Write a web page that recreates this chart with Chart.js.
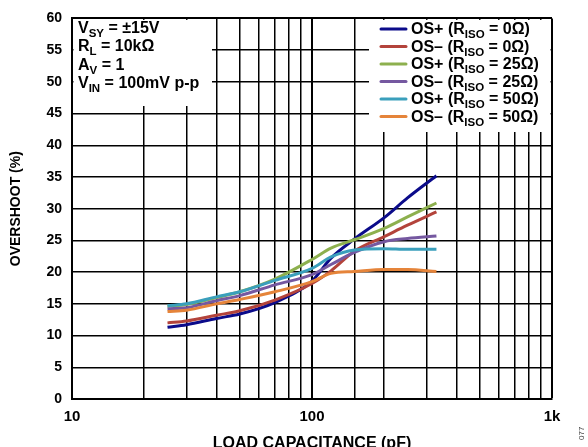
<!DOCTYPE html>
<html>
<head>
<meta charset="utf-8">
<script src="https://cdn.jsdelivr.net/npm/chart.js@4.4.1/dist/chart.umd.min.js"></script>
<style>
  html, body { margin: 0; padding: 0; background: #ffffff; }
  #c { display: block; }
</style>
</head>
<body>
<canvas id="c" width="588" height="447"></canvas>
<script>
// ---- data ----
const capacitance = [25, 30, 40, 50, 70, 100, 120, 150, 200, 250, 330];
const osPlus0   = [11.3, 11.7, 12.7, 13.4, 15.2, 18.6, 22.2, 25.2, 28.6, 31.7, 35.2];
const osMinus0  = [12.0, 12.3, 13.2, 13.9, 15.6, 18.2, 20.2, 23.3, 25.6, 27.4, 29.5];
const osPlus25  = [14.6, 14.9, 16.0, 16.9, 18.9, 22.0, 23.8, 25.1, 26.9, 28.7, 30.9];
const osMinus25 = [14.2, 14.4, 15.5, 16.3, 18.0, 19.6, 21.2, 23.1, 24.8, 25.3, 25.7];
const osPlus50  = [14.7, 15.0, 16.1, 16.9, 18.7, 20.6, 22.4, 23.5, 23.7, 23.6, 23.6];
const osMinus50 = [13.8, 14.0, 15.0, 15.7, 16.9, 18.5, 19.8, 20.1, 20.4, 20.4, 20.1];

const seriesNames = ['OS+', 'OS–', 'OS+', 'OS–', 'OS+', 'OS–'];
const risoValues  = ['0Ω', '0Ω', '25Ω', '25Ω', '50Ω', '50Ω'];
const seriesValues = [osPlus0, osMinus0, osPlus25, osMinus25, osPlus50, osMinus50];
const seriesColors = ['#0b0b8a', '#b3433b', '#8db04e', '#7558a0', '#3a9fbc', '#e5843a'];

const xTickLabels = { 10: '10', 100: '100', 1000: '1k' };
const yTicks = { min: 0, max: 60, step: 5 };
const xRange = { min: 10, max: 1000 };

const conditions = [
  [['V', false], ['SY', true], [' = ±15V', false]],
  [['R', false], ['L', true], [' = 10kΩ', false]],
  [['A', false], ['V', true], [' = 1', false]],
  [['V', false], ['IN', true], [' = 100mV p-p', false]]
];

const FONT = '"Liberation Sans", Arial, Helvetica, sans-serif';

function drawRich(ctx, parts, x, y, size, subSize, subDrop) {
  let cx = x;
  for (const [txt, sub] of parts) {
    ctx.font = 'bold ' + (sub ? subSize : size) + 'px ' + FONT;
    ctx.fillText(txt, cx, sub ? y + subDrop : y);
    cx += ctx.measureText(txt).width;
  }
}

const overlayPlugin = {
  id: 'overlay',
  beforeDatasetsDraw(chart) {
    const ctx = chart.ctx;
    const a = chart.chartArea;
    ctx.save();
    ctx.fillStyle = '#ffffff';
    // condition box (upper left)
    ctx.fillRect(a.left + 1.5, a.top + 1.5, 212 - a.left - 1.5, 106 - a.top - 1.5);
    // legend box (upper right)
    ctx.fillRect(369, a.top + 1.5, a.right - 1.5 - 369, 132 - a.top - 1.5);
    ctx.restore();
  },
  afterDraw(chart) {
    const ctx = chart.ctx;
    const a = chart.chartArea;
    ctx.save();
    ctx.fillStyle = '#000000';
    ctx.textBaseline = 'alphabetic';
    ctx.textAlign = 'left';
    // test conditions
    const condBase = [32.5, 51, 69.5, 88];
    conditions.forEach((parts, i) => {
      drawRich(ctx, parts, a.left + 6, condBase[i], 16, 11.5, 4);
    });
    // legend
    chart.data.datasets.forEach((ds, i) => {
      const base = 34 + i * 17.5;
      ctx.strokeStyle = ds.borderColor;
      ctx.lineWidth = 3;
      ctx.lineCap = 'round';
      ctx.beginPath();
      ctx.moveTo(381, base - 5);
      ctx.lineTo(406, base - 5);
      ctx.stroke();
      ctx.fillStyle = '#000000';
      drawRich(ctx, [[seriesNames[i] + ' (R', false], ['ISO', true], [' = ' + risoValues[i] + ')', false]],
        411, base, 16, 11.5, 4);
    });
    // figure code at the right edge
    ctx.translate(584, 440);
    ctx.rotate(-Math.PI / 2);
    ctx.font = '8px ' + FONT;
    ctx.fillStyle = '#444444';
    ctx.fillText('077', 0, 0);
    ctx.restore();
  }
};

const datasets = seriesValues.map((vals, i) => ({
  label: seriesNames[i] + ' (RISO = ' + risoValues[i] + ')',
  data: capacitance.map((c, j) => ({ x: c, y: vals[j] })),
  borderColor: seriesColors[i],
  backgroundColor: seriesColors[i],
  borderWidth: 3,
  pointRadius: 0,
  cubicInterpolationMode: 'monotone',
  fill: false,
  order: seriesValues.length - i
}));

new Chart(document.getElementById('c'), {
  type: 'line',
  data: { datasets },
  options: {
    responsive: false,
    animation: false,
    devicePixelRatio: 1,
    layout: { padding: { top: 15, right: 36, left: 0, bottom: 0 } },
    plugins: { legend: { display: false }, tooltip: { enabled: false } },
    scales: {
      x: {
        type: 'logarithmic',
        min: xRange.min,
        max: xRange.max,
        afterFit(scale) { scale.height = 48; },
        border: { display: true, color: '#000000', width: 2 },
        grid: {
          color: '#000000',
          drawTicks: false,
          lineWidth: (c) => (c.tick && (c.tick.value === 100 || c.tick.value === 1000)) ? 2 : 1.5
        },
        ticks: {
          autoSkip: false,
          maxRotation: 0,
          padding: 9,
          color: '#000000',
          font: { family: FONT, size: 15, weight: 'bold' },
          callback: (v) => xTickLabels[v] !== undefined ? xTickLabels[v] : ''
        },
        title: {
          display: true,
          text: 'LOAD CAPACITANCE (pF)',
          color: '#000000',
          font: { family: FONT, size: 16, weight: 'bold', lineHeight: 1 },
          padding: { top: 0, bottom: -4.5 }
        }
      },
      y: {
        min: yTicks.min,
        max: yTicks.max,
        afterFit(scale) { scale.width = 72; },
        border: { display: true, color: '#000000', width: 2 },
        grid: {
          color: '#000000',
          drawTicks: false,
          lineWidth: (c) => (c.tick && c.tick.value === 60) ? 2 : 1.5
        },
        ticks: {
          stepSize: yTicks.step,
          padding: 10,
          color: '#000000',
          font: { family: FONT, size: 14, weight: 'bold' }
        },
        title: {
          display: true,
          text: 'OVERSHOOT (%)',
          color: '#000000',
          font: { family: FONT, size: 14, weight: 'bold', lineHeight: 1.2 },
          padding: { top: 7.6, bottom: 0 }
        }
      }
    }
  },
  plugins: [overlayPlugin]
});
</script>
</body>
</html>
